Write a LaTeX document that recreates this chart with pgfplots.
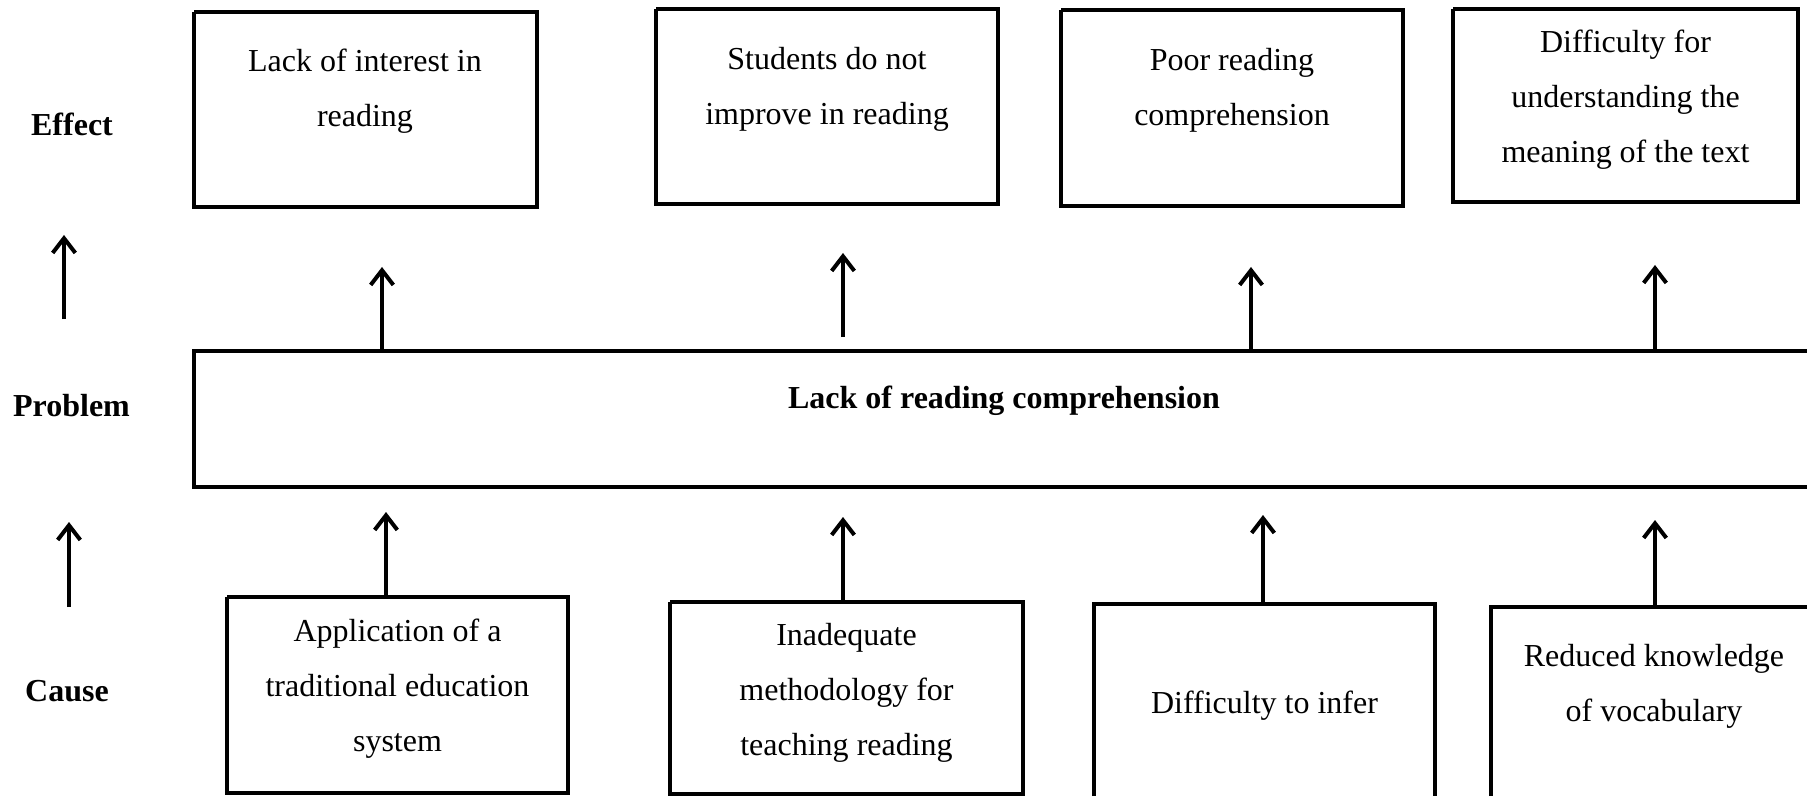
\documentclass[border=0pt]{standalone}
\usepackage{fontspec}
\setmainfont{Liberation Serif}
\usepackage{pgfplots}
\pgfplotsset{compat=1.18}
\usetikzlibrary{arrows.meta}
\begin{document}
\begin{tikzpicture}
\begin{axis}[
  scale only axis,
  width=677.6pt, height=298.5pt,
  xmin=0, xmax=1807, ymin=0, ymax=796,
  y dir=reverse,
  hide axis,
  clip=false,
  bx/.style={black, solid, line width=1.85pt, line join=miter, mark=none},
  ar/.style={black, solid, mark=none, line width=1.5pt, -{Straight Barb[length=5.5pt,width=8.5pt,line width=1.5pt]}},
  nodes={font=\fontsize{12}{20.6}\selectfont, align=center, inner sep=0pt},
]
% Effect boxes
\addplot[bx] coordinates {(194,12) (537,12) (537,207) (194,207) (194,12)};
\addplot[bx] coordinates {(656,9) (998,9) (998,204) (656,204) (656,9)};
\addplot[bx] coordinates {(1061,10) (1403,10) (1403,206) (1061,206) (1061,10)};
\addplot[bx] coordinates {(1453,9) (1798,9) (1798,202) (1453,202) (1453,9)};
% Problem box (open to the right)
\addplot[bx] coordinates {(1807,351) (194,351) (194,487) (1807,487)};
% Cause boxes
\addplot[bx] coordinates {(227,597) (568,597) (568,793) (227,793) (227,597)};
\addplot[bx] coordinates {(670,602) (1023,602) (1023,794) (670,794) (670,602)};
\addplot[bx] coordinates {(1094,796) (1094,604) (1435,604) (1435,796)};
\addplot[bx] coordinates {(1491,796) (1491,607) (1807,607)};
% Arrows
\addplot[ar] coordinates {(64,319) (64,235)};
\addplot[ar] coordinates {(69,607) (69,522)};
\addplot[ar] coordinates {(382,350) (382,267)};
\addplot[ar] coordinates {(843,337) (843,253)};
\addplot[ar] coordinates {(1251,350) (1251,267)};
\addplot[ar] coordinates {(1655,350) (1655,265)};
\addplot[ar] coordinates {(386,597) (386,512)};
\addplot[ar] coordinates {(843,602) (843,517)};
\addplot[ar] coordinates {(1263,604) (1263,515)};
\addplot[ar] coordinates {(1655,607) (1655,520)};
% Row labels
\node at (axis cs:72,124) {\bfseries Effect};
\node at (axis cs:71.5,406) {\bfseries Problem};
\node at (axis cs:67,691) {\bfseries Cause};
% Effect texts
\node at (axis cs:365,91) {Lack of interest in\\reading};
\node at (axis cs:827,89) {Students do not\\improve in reading};
\node at (axis cs:1232,90) {Poor reading\\comprehension};
\node at (axis cs:1625.5,100) {Difficulty for\\understanding the\\meaning of the text};
% Problem text
\node at (axis cs:1004,401) {\bfseries Lack of reading comprehension};
% Cause texts
\node at (axis cs:397.5,689) {Application of a\\traditional education\\system};
\node at (axis cs:846.5,693) {Inadequate\\methodology for\\teaching reading};
\node at (axis cs:1264.5,706) {Difficulty to infer};
\node at (axis cs:1654,686) {Reduced knowledge\\of vocabulary};
\end{axis}
\pgfresetboundingbox
\useasboundingbox (current axis.south west) rectangle (current axis.north east);
\end{tikzpicture}
\end{document}
